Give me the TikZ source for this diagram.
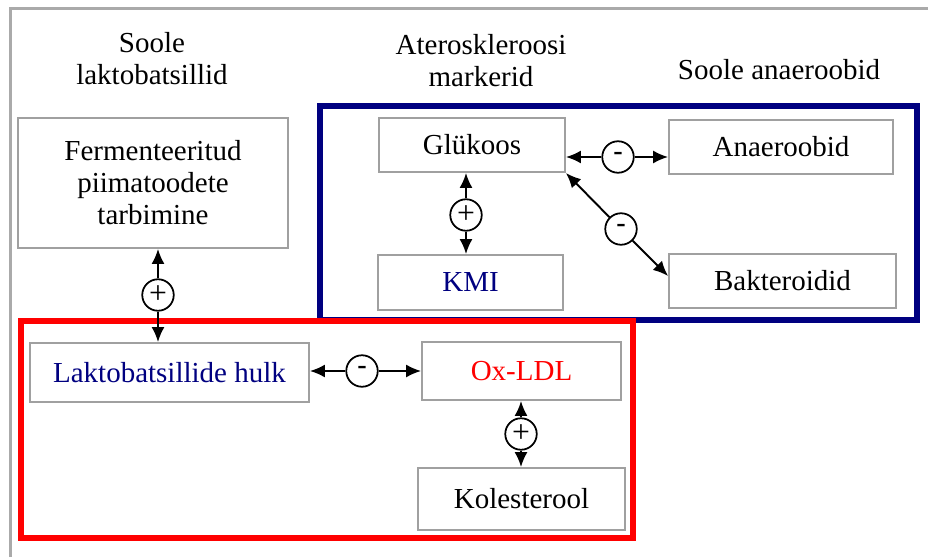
\documentclass[tikz,border=0pt]{standalone}
\usepackage{fontspec}
\setmainfont{Liberation Serif}
\newfontfamily\signfont{Liberation Sans}
\usetikzlibrary{arrows.meta}
\definecolor{navyblue}{RGB}{0,0,128}
\definecolor{boxgray}{RGB}{160,160,160}
\definecolor{framegray}{RGB}{170,170,170}

\begin{document}
\begin{tikzpicture}[x=0.02cm, y=-0.02cm, > = {Latex[length=8.5pt, width=7.4pt]}]
      \tikzset{box/.style={draw=boxgray, line width=1.1pt, inner sep=0pt, align=center, font=\fontsize{16.5}{18.2}\selectfont},
               sign/.style={draw, circle, line width=1pt, inner sep=0pt, minimum size=0.63cm, fill=white},
               heading/.style={align=center, font=\fontsize{16.5}{18.2}\selectfont},
               link/.style={->, line width=1.1pt}}
      \useasboundingbox (0,0) rectangle (928,557);
%% Frames
      	\draw[framegray, line width=1.4pt] (10.5,557) -- (10.5,8.5) -- (928,8.5);
      	\draw[navyblue, line width=3.4pt] (320,106) rectangle (917,320);
      	\draw[red, line width=3.4pt] (21,321) rectangle (633,538);
%% Headings
      	\node[heading] (hlak) at (152,59) {Soole\\laktobatsillid};
      	\node[heading] (hater) at (481,61) {Ateroskleroosi\\markerid};
      	\node[heading] (hana) at (779,70) {Soole anaeroobid};
%% Boxes
      	\node[box, minimum width=5.4cm, minimum height=2.6cm] (ferm) at (153,183) {Fermenteeritud\\piimatoodete\\tarbimine};
      	\node[box, minimum width=5.58cm, minimum height=1.18cm, text=navyblue] (lak) at (169.5,372.5) {Laktobatsillide hulk};
      	\node[box, minimum width=3.98cm, minimum height=1.16cm, text=red] (ox) at (521.5,371) {Ox-LDL};
      	\node[box, minimum width=4.14cm, minimum height=1.24cm] (kol) at (521.5,499) {Kolesterool};
      	\node[box, minimum width=3.72cm, minimum height=1.08cm] (glc) at (472,145) {Glükoos};
      	\node[box, minimum width=3.7cm, minimum height=1.1cm, text=navyblue] (kmi) at (470.5,282.5) {KMI};
      	\node[box, minimum width=4.48cm, minimum height=1.08cm] (ana) at (781,147) {Anaeroobid};
      	\node[box, minimum width=4.54cm, minimum height=1.08cm] (bak) at (782.5,281) {Bakteroidid};
%% Signs
      	\node[sign, font=\fontsize{18}{18}\selectfont] (sFL) at (158,295) {+};
      	\node[sign, font=\signfont\fontsize{17}{17}\selectfont] (sLO) at (362,371) {-};
      	\node[sign, font=\fontsize{18}{18}\selectfont] (sOK) at (521,434) {+};
      	\node[sign, font=\fontsize{18}{18}\selectfont] (sGK) at (466,215) {+};
      	\node[sign, font=\signfont\fontsize{17}{17}\selectfont] (sGA) at (618,157) {-};
      	\node[sign, font=\signfont\fontsize{17}{17}\selectfont] (sGB) at (621,229) {-};
%Edges
		\path[link] (sFL) edge (sFL |- ferm.south) edge (sFL |- lak.north);
		\path[link] (sLO) edge (lak.east |- sLO) edge (ox.west |- sLO);
		\path[link] (sOK) edge (sOK |- ox.south) edge (sOK |- kol.north);
		\path[link] (sGK) edge (sGK |- glc.south) edge (sGK |- kmi.north);
		\path[link] (sGA) edge (glc.east |- sGA) edge (ana.west |- sGA);
		\path[link] (sGB) edge (glc.south east) edge ([yshift=0.1cm]bak.west);
	\end{tikzpicture}
\end{document}
